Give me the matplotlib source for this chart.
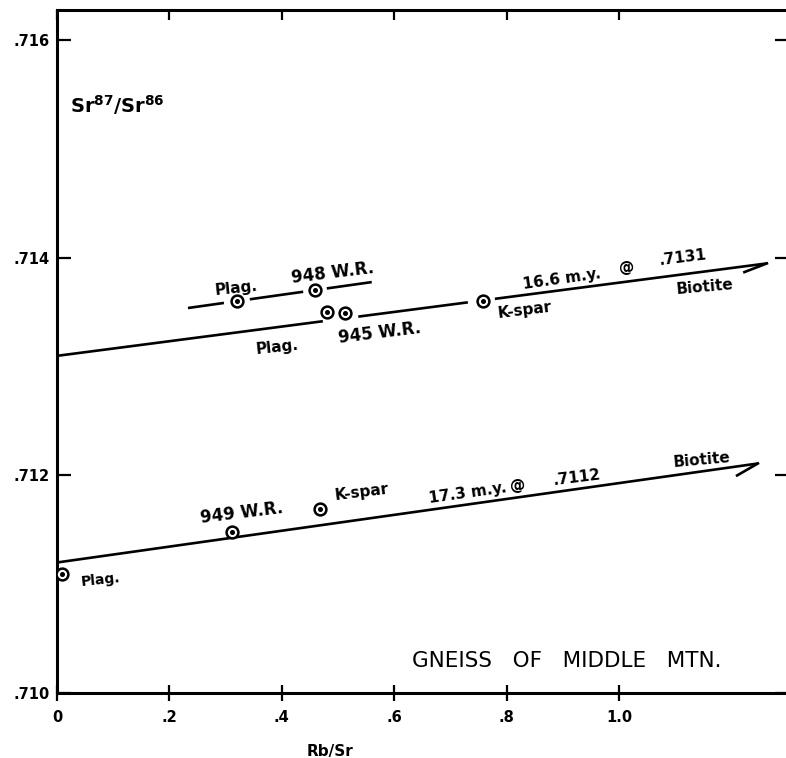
import matplotlib
matplotlib.use("Agg")
import matplotlib.pyplot as plt
import numpy as np

plt.rcParams.update({"font.family": "DejaVu Sans", "font.weight": "bold"})

# ---- data ----
# isochron 945 (upper line): Plag, W.R., K-spar
iso945_x = [0.480, 0.512, 0.758]
iso945_y = [0.71350, 0.71349, 0.71360]
iso945_icpt, iso945_slope, iso945_end = 0.7131, 0.000673, 1.263
iso945_segments = [(0.0, 0.473), (0.536, 0.731), (0.779, 1.263)]

# sample 948: Plag, W.R.
s948_x = [0.320, 0.459]
s948_y = [0.71360, 0.71371]
s948_icpt, s948_slope = 0.71337, 0.000729
s948_segments = [(0.233, 0.297), (0.343, 0.438), (0.480, 0.560)]

# isochron 949 (lower line): Plag, W.R., K-spar
iso949_x = [0.009, 0.311, 0.468]
iso949_y = [0.71109, 0.71148, 0.71169]
iso949_icpt, iso949_slope, iso949_end = 0.7112, 0.00073, 1.247

xticks = [0, 0.2, 0.4, 0.6, 0.8, 1.0]
xtick_labels = ["0", ".2", ".4", ".6", ".8", "1.0"]
yticks = [0.710, 0.712, 0.714, 0.716]
ytick_labels = [".710", ".712", ".714", ".716"]

LW = 1.9
fig = plt.figure(figsize=(7.86, 7.58), dpi=100)
ax = fig.add_axes([57 / 786, 65 / 758, 729 / 786, 683 / 758])
ax.set_xlim(0, 1.297)
ax.set_ylim(0.710, 0.71628)

for s in ["left", "bottom", "top"]:
    ax.spines[s].set_linewidth(2.2)
ax.spines["right"].set_visible(False)

ax.set_xticks(xticks)
ax.set_xticklabels(xtick_labels)
ax.set_yticks(yticks)
ax.set_yticklabels(ytick_labels)
ax.tick_params(axis="x", direction="inout", length=12, width=1.6,
               labelsize=10.5, pad=6)
ax.tick_params(axis="y", direction="in", length=10, width=1.6,
               labelsize=10.5, pad=5)
for lab in ax.get_xticklabels() + ax.get_yticklabels():
    lab.set_fontweight("bold")

# inward ticks on top and right edges
top = ax.secondary_xaxis("top")
top.set_xticks(xticks)
top.tick_params(direction="in", length=7, width=1.6, labeltop=False)
top.spines["top"].set_visible(False)
right = ax.secondary_yaxis("right")
right.set_yticks(yticks)
right.tick_params(direction="in", length=8, width=1.6, labelright=False)
right.spines["right"].set_visible(False)


def line_segments(icpt, slope, segs):
    for a, b in segs:
        xs = np.array([a, b])
        ax.plot(xs, icpt + slope * xs, color="black", lw=LW,
                solid_capstyle="butt", zorder=2)


def barb(icpt, slope, x_end, dx, dy):
    y_end = icpt + slope * x_end
    ax.plot([x_end, x_end + dx], [y_end, y_end + dy], color="black", lw=LW,
            zorder=2, clip_on=False)


def points(xs, ys):
    ax.plot(xs, ys, "o", ms=8.5, mfc="white", mec="black", mew=1.8, zorder=4)
    ax.plot(xs, ys, "o", ms=2.6, color="black", zorder=5)


line_segments(iso945_icpt, iso945_slope, iso945_segments)
barb(iso945_icpt, iso945_slope, iso945_end, -0.040, -0.00008)
line_segments(s948_icpt, s948_slope, s948_segments)
line_segments(iso949_icpt, iso949_slope, [(0.0, iso949_end)])
barb(iso949_icpt, iso949_slope, iso949_end, -0.037, -0.00011)

points(iso945_x, iso945_y)
points(s948_x, s948_y)
points(iso949_x, iso949_y)


def label(x, y, s, rot=7, size=11):
    ax.text(x, y, s, ha="center", va="center", rotation=rot, fontsize=size,
            fontweight="bold", rotation_mode="anchor", clip_on=False)


# labels, upper group
label(0.318, 0.71372, "Plag.", rot=6)
label(0.491, 0.71386, "948 W.R.", rot=7, size=12)
label(0.391, 0.71318, "Plag.", rot=6)
label(0.575, 0.71331, "945 W.R.", rot=7, size=12)
label(0.833, 0.71352, "K-spar", rot=7)
label(0.899, 0.71381, "16.6 m.y.", rot=8)
label(1.014, 0.71391, "@", rot=0)
label(1.114, 0.71400, ".7131", rot=7)
label(1.153, 0.71373, "Biotite", rot=5)

# labels, lower group
label(0.077, 0.71104, "Plag.", rot=6, size=10)
label(0.329, 0.71166, "949 W.R.", rot=7, size=12)
label(0.543, 0.71185, "K-spar", rot=7)
label(0.730, 0.71184, "17.3 m.y.", rot=8)
label(0.820, 0.71191, "@", rot=0)
label(0.925, 0.71198, ".7112", rot=7)
label(1.148, 0.71214, "Biotite", rot=5)

ax.text(0.107, 0.71541, r"Sr$^{87}$/Sr$^{86}$", ha="center", va="center",
        fontsize=14, fontweight="bold")

ax.text(0.907, 0.71029, "GNEISS   OF   MIDDLE   MTN.", ha="center",
        va="center", fontsize=15.5, fontweight="normal")

ax.text(0.486, 0.70946, "Rb/Sr", ha="center", va="center", fontsize=11,
        fontweight="bold", clip_on=False)

fig.savefig("out.png", dpi=100, facecolor="white")
